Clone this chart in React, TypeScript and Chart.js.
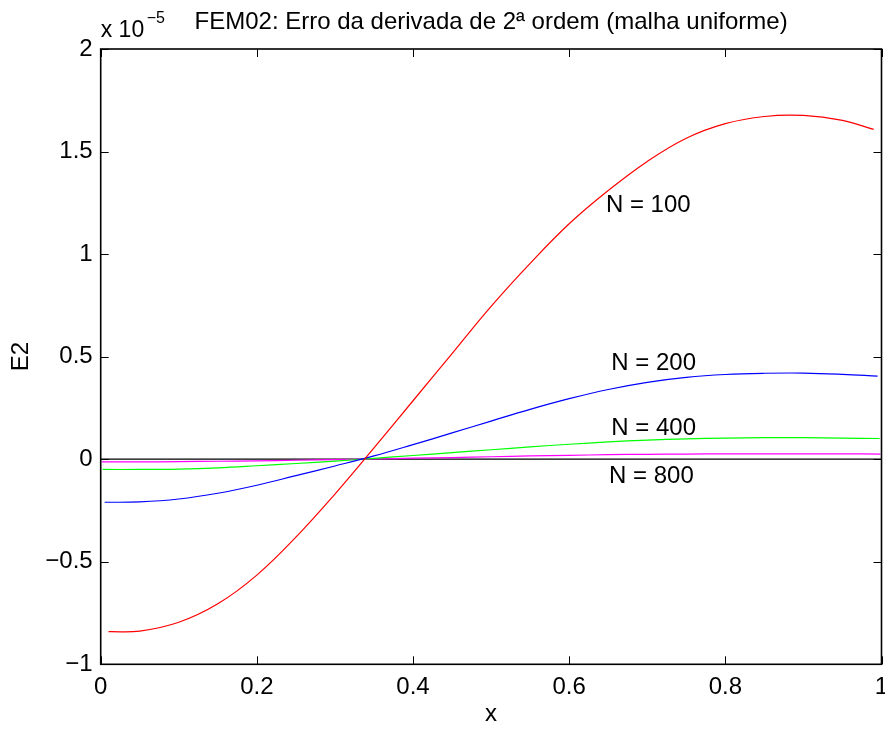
import React, { useEffect, useRef } from "react";
import { Chart, registerables } from "chart.js";

Chart.register(...registerables);

const TITLE = "FEM02: Erro da derivada de 2ª ordem (malha uniforme)";
const X_LABEL = "x";
const Y_LABEL = "E2";

const xN100 = [0.01, 0.05, 0.1, 0.15, 0.2, 0.25, 0.3, 0.35, 0.4, 0.45, 0.5, 0.55, 0.6, 0.65, 0.7, 0.75, 0.8, 0.85, 0.9, 0.95, 0.99];
const yN100 = [-0.841, -0.838, -0.795, -0.705, -0.565, -0.38, -0.17, 0.055, 0.285, 0.515, 0.745, 0.955, 1.148, 1.31, 1.452, 1.565, 1.636, 1.671, 1.676, 1.652, 1.608];

const xN200 = [0.005, 0.05, 0.1, 0.15, 0.2, 0.25, 0.3, 0.35, 0.4, 0.45, 0.5, 0.55, 0.6, 0.65, 0.7, 0.75, 0.8, 0.85, 0.9, 0.95, 0.995];
const yN200 = [-0.21, -0.208, -0.194, -0.166, -0.127, -0.08, -0.033, 0.016, 0.071, 0.128, 0.186, 0.243, 0.295, 0.34, 0.375, 0.399, 0.413, 0.419, 0.42, 0.414, 0.405];

const xN400 = [0.0025, 0.05, 0.1, 0.15, 0.2, 0.25, 0.3, 0.35, 0.4, 0.45, 0.5, 0.55, 0.6, 0.65, 0.7, 0.75, 0.8, 0.85, 0.9, 0.95, 0.9975];
const yN400 = [-0.05, -0.05, -0.048, -0.042, -0.032, -0.021, -0.009, 0.004, 0.018, 0.032, 0.046, 0.06, 0.073, 0.084, 0.093, 0.099, 0.103, 0.105, 0.105, 0.103, 0.101];

const xN800 = [0.00125, 0.05, 0.1, 0.15, 0.2, 0.25, 0.3, 0.35, 0.4, 0.45, 0.5, 0.55, 0.6, 0.65, 0.7, 0.75, 0.8, 0.85, 0.9, 0.95, 0.99875];
const yN800 = [-0.013, -0.013, -0.012, -0.01, -0.008, -0.005, -0.002, 0.001, 0.005, 0.008, 0.012, 0.016, 0.019, 0.022, 0.024, 0.025, 0.026, 0.026, 0.026, 0.026, 0.025];

const xZero = [0, 1];
const yZero = [0, 0];

const curveLabels = ["N = 100", "N = 200", "N = 400", "N = 800"];
const curveLabelX = [0.647, 0.654, 0.654, 0.651];
const curveLabelY = [1.24, 0.469, 0.152, -0.082];

const xTicks = [0, 0.2, 0.4, 0.6, 0.8, 1];
const yTicks = [-1, -0.5, 0, 0.5, 1, 1.5, 2];

const FONT = "'Liberation Sans', Arial, Helvetica, sans-serif";
const FS = 24;

function pts(xs: number[], ys: number[]) {
  return xs.map((x, i) => ({ x, y: ys[i] }));
}

function fmt(v: number) {
  const n = Number(v.toFixed(2));
  return n < 0 ? "\u2212" + String(Math.abs(n)) : String(n);
}

const decorPlugin = {
  id: "decor",
  afterDraw(chart: any) {
    const { ctx, chartArea: a, scales } = chart;
    const xs = scales.x;
    const ys = scales.y;
    ctx.save();
    ctx.strokeStyle = "#000";
    ctx.lineWidth = 1.6;
    ctx.strokeRect(a.left, a.top, a.right - a.left, a.bottom - a.top);
    ctx.lineWidth = 1;
    const tl = 8;
    ctx.beginPath();
    for (const t of xTicks) {
      const px = Math.round(xs.getPixelForValue(t)) + 0.5;
      ctx.moveTo(px, a.bottom);
      ctx.lineTo(px, a.bottom - tl);
      ctx.moveTo(px, a.top);
      ctx.lineTo(px, a.top + tl);
    }
    for (const t of yTicks) {
      const py = Math.round(ys.getPixelForValue(t)) + 0.5;
      ctx.moveTo(a.left, py);
      ctx.lineTo(a.left + tl, py);
      ctx.moveTo(a.right, py);
      ctx.lineTo(a.right - tl, py);
    }
    ctx.stroke();

    ctx.fillStyle = "#000";
    ctx.font = `${FS}px ${FONT}`;
    ctx.textBaseline = "middle";
    ctx.textAlign = "center";
    ctx.fillText(TITLE, (a.left + a.right) / 2, 22);
    ctx.fillText(X_LABEL, (a.left + a.right) / 2, 714);
    ctx.save();
    ctx.translate(21, (a.top + a.bottom) / 2);
    ctx.rotate(-Math.PI / 2);
    ctx.fillText(Y_LABEL, 0, 0);
    ctx.restore();

    // exponent label
    ctx.textAlign = "left";
    ctx.textBaseline = "alphabetic";
    ctx.font = `23px ${FONT}`;
    ctx.fillText("x 10", a.left, 37);
    ctx.font = `16px ${FONT}`;
    ctx.fillText("\u22125", a.left + 46, 23);

    ctx.font = `${FS}px ${FONT}`;
    ctx.textBaseline = "middle";
    for (let i = 0; i < curveLabels.length; i++) {
      ctx.fillText(curveLabels[i], xs.getPixelForValue(curveLabelX[i]), ys.getPixelForValue(curveLabelY[i]));
    }
    ctx.restore();
  },
};

export default function App() {
  const ref = useRef<HTMLCanvasElement | null>(null);
  useEffect(() => {
    document.body.style.margin = "0";
    const canvas = ref.current;
    if (!canvas) return;
    const line = (data: any, color: string) => ({
      data,
      borderColor: color,
      backgroundColor: color,
      borderWidth: 1.2,
      pointRadius: 0,
      tension: 0.4,
      fill: false,
    });
    const chart = new Chart(canvas, {
      type: "line",
      data: {
        datasets: [
          line(pts(xN100, yN100), "#ff0000"),
          line(pts(xN200, yN200), "#0000ff"),
          line(pts(xN400, yN400), "#00ff00"),
          line(pts(xN800, yN800), "#ff00ff"),
          { ...line(pts(xZero, yZero), "#000000"), tension: 0 },
        ],
      },
      options: {
        animation: false,
        responsive: false,
        maintainAspectRatio: false,
        layout: { padding: { top: 49, right: 3.5, left: 0, bottom: 0 } },
        plugins: { legend: { display: false }, tooltip: { enabled: false }, title: { display: false } },
        scales: {
          x: {
            type: "linear",
            min: 0,
            max: 1,
            grid: { display: false, drawTicks: false },
            border: { display: false },
            afterFit: (s: any) => {
              s.height = 64.7;
              s.paddingLeft = 0;
              s.paddingRight = 0;
            },
            afterBuildTicks: (s: any) => {
              s.ticks = xTicks.map((v) => ({ value: v }));
            },
            ticks: {
              color: "#000",
              padding: 9,
              maxRotation: 0,
              autoSkip: false,
              font: { family: FONT, size: FS },
              callback: (v: any) => fmt(Number(v)),
            },
          },
          y: {
            type: "linear",
            min: -1,
            max: 2,
            grid: { display: false, drawTicks: false },
            border: { display: false },
            afterFit: (s: any) => {
              s.width = 100.7;
              s.paddingTop = 0;
              s.paddingBottom = 0;
            },
            afterBuildTicks: (s: any) => {
              s.ticks = yTicks.map((v) => ({ value: v }));
            },
            ticks: {
              color: "#000",
              padding: 8,
              autoSkip: false,
              font: { family: FONT, size: FS },
              callback: (v: any) => fmt(Number(v)),
            },
          },
        },
      },
      plugins: [decorPlugin],
    } as any);
    return () => chart.destroy();
  }, []);
  return (
    <div style={{ width: 885, height: 729 }}>
      <canvas ref={ref} width={885} height={729} style={{ width: 885, height: 729, display: "block" }} />
    </div>
  );
}
